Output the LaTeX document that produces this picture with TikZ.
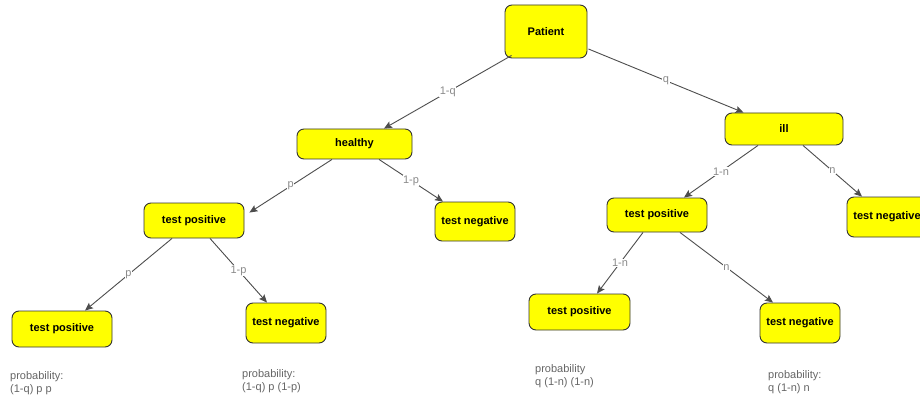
\documentclass[tikz,border=0pt]{standalone}
\usepackage{fontspec}
\setmainfont{Liberation Sans}
\usetikzlibrary{arrows.meta,calc}
\definecolor{nodefill}{HTML}{FFFF00}
\definecolor{nodedraw}{HTML}{333333}
\definecolor{edgecol}{HTML}{4D4D4D}
\definecolor{lblcol}{HTML}{8A8A8A}
\definecolor{probcol}{HTML}{666666}
\begin{document}
\begin{tikzpicture}[x=1pt,y=-1pt,
  box/.style={draw=nodedraw, line width=0.9pt, fill=nodefill, rounded corners=7pt,
    font=\fontsize{11}{13}\selectfont\bfseries, inner sep=0pt, align=center},
  edge/.style={draw=edgecol, line width=0.9pt, -{Stealth[length=8pt,width=7pt,inset=1.5pt]}},
  elabel/.style={fill=white, text=lblcol, font=\fontsize{11}{13}\selectfont, inner sep=0.5pt},
  prob/.style={anchor=north west, align=left, inner sep=0pt, text=probcol,
    font=\fontsize{11}{13}\selectfont}]
\clip (0,0) rectangle (920,398);
\fill[white] (0,0) rectangle (920,398);
% nodes
\node[box, minimum width=82pt, minimum height=53pt] (patient) at (546,31.5) {Patient};
\node[box, minimum width=115pt, minimum height=30pt] (healthy) at (354.5,144) {healthy};
\node[box, minimum width=118pt, minimum height=32pt] (ill) at (784,129) {ill};
\node[box, minimum width=100pt, minimum height=35pt] (tp1) at (194,220.5) {test positive};
\node[box, minimum width=80pt, minimum height=39pt] (tn1) at (475,221.5) {test negative};
\node[box, minimum width=100pt, minimum height=36pt] (tpLL) at (62,329) {test positive};
\node[box, minimum width=80pt, minimum height=40pt] (tnLR) at (286,323) {test negative};
\node[box, minimum width=100pt, minimum height=34pt] (tpR1) at (657,215) {test positive};
\node[box, minimum width=80pt, minimum height=40pt] (tnR) at (887,217) {test negative};
\node[box, minimum width=101pt, minimum height=36pt] (tpRL) at (579.5,312) {test positive};
\node[box, minimum width=80pt, minimum height=40pt] (tnRR) at (800,323) {test negative};
% edges
\draw[edge] ([shift={(7,-3)}]patient.south west) -- node[elabel]{1-q} ([shift={(29.5,0)}]healthy.north);
\draw[edge] ([shift={(1,17.5)}]patient.east) -- node[elabel]{q} ([shift={(-40.5,0)}]ill.north);
\draw[edge] ([shift={(-22.5,0)}]healthy.south) -- node[elabel]{p} ([shift={(5,10)}]tp1.north east);
\draw[edge] ([shift={(24.5,0)}]healthy.south) -- node[elabel]{1-p} ([shift={(-32,0)}]tn1.north);
\draw[edge] ([shift={(-22,0)}]tp1.south) -- node[elabel]{p} ([shift={(23,0)}]tpLL.north);
\draw[edge] ([shift={(16,0)}]tp1.south) -- node[elabel]{1-p} ([shift={(-19,0)}]tnLR.north);
\draw[edge] ([shift={(-26,0)}]ill.south) -- node[elabel]{1-n} ([shift={(27,0)}]tpR1.north);
\draw[edge] ([shift={(19,0)}]ill.south) -- node[elabel]{n} ([shift={(-25,0)}]tnR.north);
\draw[edge] ([shift={(-14,0)}]tpR1.south) -- node[elabel]{1-n} ([shift={(17.5,0)}]tpRL.north);
\draw[edge] ([shift={(23,0)}]tpR1.south) -- node[elabel]{n} ([shift={(-27,0)}]tnRR.north);
% probability texts
\node[prob] (p1) at (10,371) {probability:\\(1-q) p p};
\node[prob] (p2) at (242,369) {probability:\\(1-q) p (1-p)};
\node[prob] (p3) at (535,364) {probability\\q (1-n) (1-n)};
\node[prob] (p4) at (768,370) {probability:\\q (1-n) n};
\end{tikzpicture}
\end{document}
